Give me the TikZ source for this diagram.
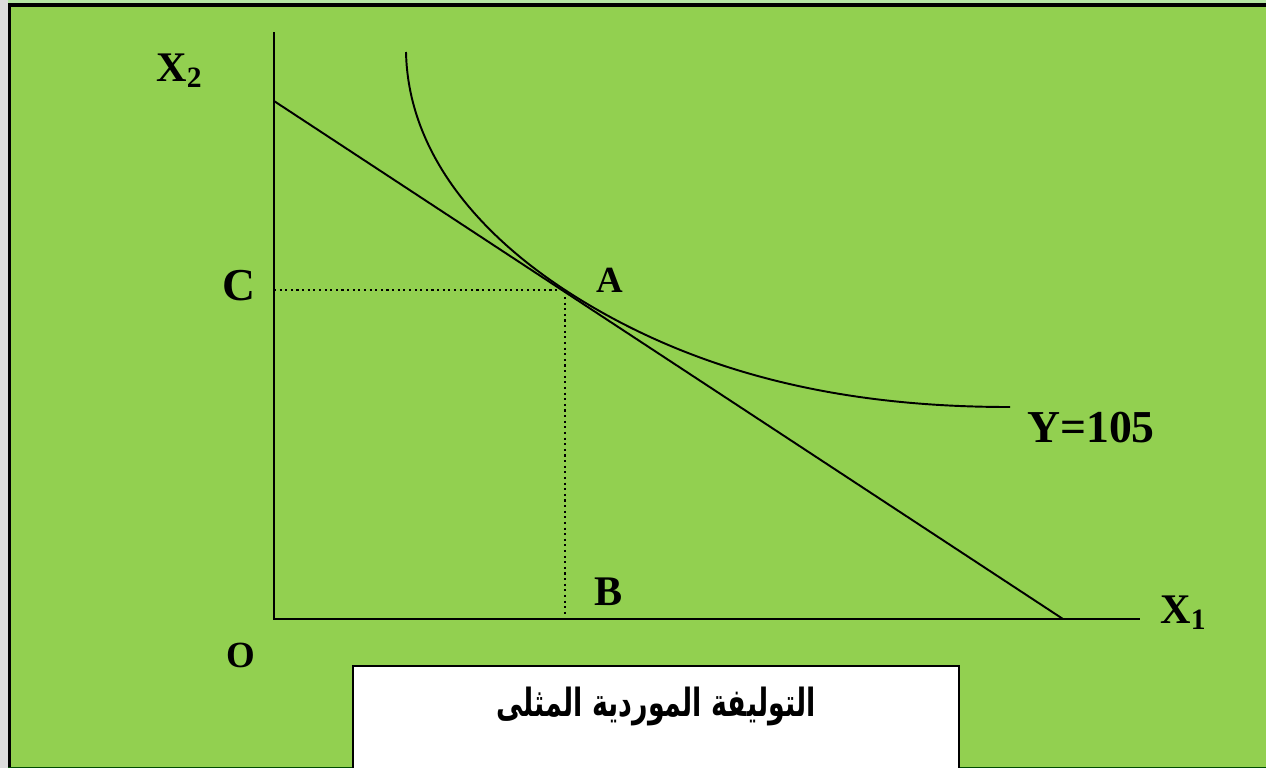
\documentclass[tikz,border=0pt]{standalone}
\usepackage{fontspec}
\setmainfont{Liberation Serif}
\newfontfamily\arabicfont[Script=Arabic]{DejaVu Sans}
\TeXXeTstate=1
\definecolor{bggreen}{HTML}{92D050}
\definecolor{lightgreen}{HTML}{B5E6A2}
\definecolor{edgegrey}{HTML}{DCDCDC}
\tikzset{
  lbl/.style={inner sep=0pt, anchor=base, font=\fontsize{24}{28}\selectfont\bfseries},
  curveline/.style={line width=1.1pt, black},
  axisline/.style={line width=1.3pt, black},
  guide/.style={line width=1.2pt, dotted, black},
}
\begin{document}
\begin{tikzpicture}[x=0.02cm,y=-0.02cm]
\useasboundingbox (0,0) rectangle (1266,768);
% surroundings
\fill[edgegrey] (0,0) rectangle (8,768);
\fill[lightgreen] (8,0) rectangle (1266,5);
\fill[bggreen] (8,5) rectangle (1266,768);
\draw[line width=1.8pt] (9.5,768) -- (9.5,5) -- (1266,5);
\draw[line width=0.8pt, black!70!green] (8,767.5) -- (1266,767.5);
% axes
\coordinate (O) at (274,619);
\coordinate (ytop) at (274,32);
\coordinate (xend) at (1140,619);
\draw[axisline] (ytop) -- (O) -- (xend);
% budget line
\coordinate (L1) at (274,101);
\coordinate (L2) at (1063,619);
\draw[curveline] (L1) -- (L2);
% isoquant
\coordinate (Q0) at (406,52);
\coordinate (A) at (565,290);
\coordinate (Q1) at (1010,407);
\draw[curveline] (Q0) .. controls (408,150) and (475,231) .. (A)
  .. controls (715,388) and (880,407) .. (Q1);
% guides
\coordinate (Cpt) at (274,290);
\coordinate (Bpt) at (565,617);
\draw[guide] (Cpt) -- (A) -- (Bpt);
% labels
\node[lbl, anchor=base west] (x2) at (156,81) {X\textsubscript{2}};
\node[lbl, font=\fontsize{26}{30}\selectfont\bfseries] (c) at (239,300) {C};
\node[lbl, font=\fontsize{21}{25}\selectfont\bfseries] (a) at (610,292) {A};
\node[lbl, font=\fontsize{26}{30}\selectfont\bfseries] (y) at (1091,442) {Y=105};
\node[lbl] (b) at (609,605) {B};
\node[lbl, anchor=base west] (x1) at (1160,623) {X\textsubscript{1}};
\node[lbl, font=\fontsize{21}{25}\selectfont\bfseries] (o) at (241,667) {O};
% title box
\draw[fill=white, line width=1.2pt] (353,768) -- (353,666) -- (959,666) -- (959,768);
\node[inner sep=0pt] (title) at (656,706) {\scalebox{0.9}[1.3]{\arabicfont\bfseries\fontsize{17}{20}\selectfont\beginR التوليفة الموردية المثلى\endR}};
\end{tikzpicture}
\end{document}
